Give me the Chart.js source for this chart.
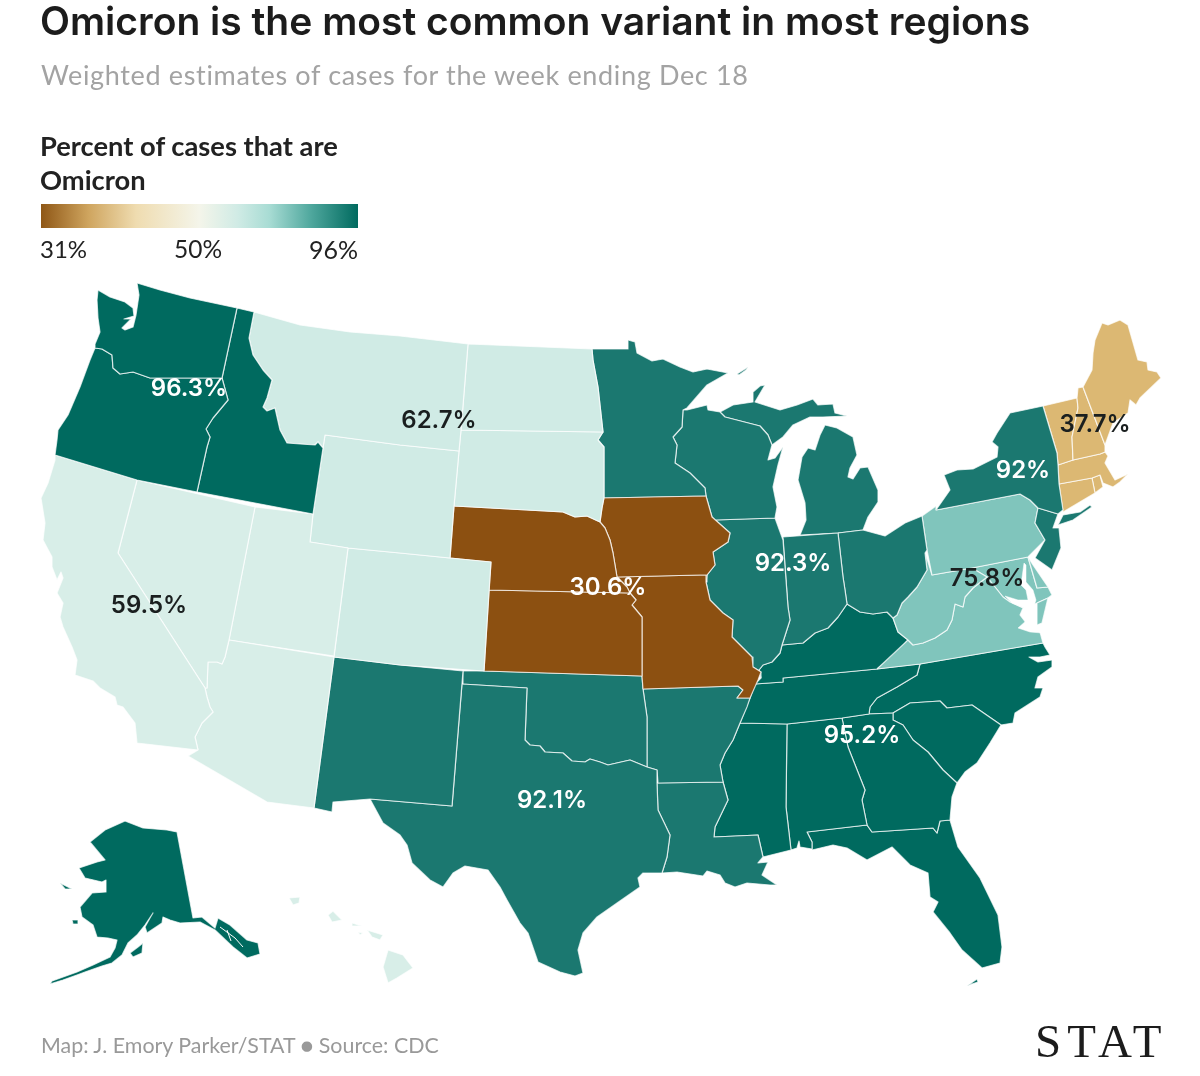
<!DOCTYPE html>
<html><head><meta charset="utf-8">
<script src="https://cdn.jsdelivr.net/npm/chart.js@4"></script>
<style>
html,body{margin:0;padding:0;background:#fff;width:1200px;height:1076px;overflow:hidden}
#c{position:absolute;left:0;top:0}
.t{position:absolute;white-space:nowrap;font-family:Lato,sans-serif;line-height:1}
</style></head><body>
<canvas id="c" width="1200" height="1076"></canvas>
<div class="t" style="left:40px;top:1px;font:600 39px/40px Inter,sans-serif;color:#1c1c1c" id="title">Omicron is the most common variant in most regions</div>
<div class="t" style="left:41px;top:60px;font:400 27px/30px Lato,sans-serif;color:#a3a3a3;letter-spacing:.65px">Weighted estimates of cases for the week ending Dec 18</div>
<div class="t" style="left:40px;top:129px;font:700 27.3px/34px Lato,sans-serif;color:#222">Percent of cases that are<br>Omicron</div>
<div class="t" style="left:40px;top:236px;font:400 24px/26px Lato,sans-serif;color:#222">31%</div>
<div class="t" style="left:174px;top:236px;font:400 24.5px/26px Lato,sans-serif;color:#222">50%</div>
<div class="t" style="right:842px;top:236px;font:400 25px/26px Lato,sans-serif;color:#222">96%</div>
<div class="t" style="left:41px;top:1033px;font:400 21.4px/24px Lato,sans-serif;color:#999">Map: J. Emory Parker/STAT ● Source: CDC</div>
<div class="t" style="left:1035px;top:1016px;font:400 47px/50px 'Liberation Serif',serif;color:#1c1c1c;letter-spacing:6px">STAT</div>
<script>
// shared borders, in map units
const waOr=[222,378,192,378,150,378,133,372,120,374,113,368,112,355,102,349,95,348];
const idOr=[222,378,228,400,213,418,206,429,210,437,207,447,197,492];
const idMt=[254,312,249,338,253,355,263,370,272,380,267,398,263,407,267,411,275,408,280,430,287,443,300,444,315,445,318,442,323,448];
const coRiver=[205,688,207,697,210,707,213,712,202,723,195,737,198,750];
const nvAz=[229,640,225,657,222,664,217,662,208,662,207,688,205,688];
const redRiver=[525,740,530,745,540,746,545,752,563,753,572,761,585,762,590,759,600,762,608,765,630,760,647,767,657,770];
const sabine=[657,783,658,810,670,835,667,857,662,873];
const neMo=[600,522,605,528,610,540,613,553,617,577,627,587,630,593];
const ksMo=[630,593,636,600,632,605,642,617,642,676];
const iaIl=[706,496,712,517,730,533,728,542,713,552,715,565,707,575];
const moIl=[707,575,706,582,710,600,723,613,733,620,732,637,752,657,753,667,761,672];
const moSouth=[761,672,758,680,750,698,737,698,743,690,738,686,643,689];
const miss=[750,698,747,707,740,723,733,740,725,753,720,765,723,782,728,800,715,827,714,837];
const mnWi=[683,410,682,427,673,437,677,445,675,463,690,473,705,488,706,496];
const ohioRv=[893,618,887,612,873,614,860,612,847,604,838,617,828,628,815,633,803,643,782,645];
const ilKy=[782,645,780,653,772,662,763,665,759,670,761,678];
const tnNc=[920,664,917,675,897,687,877,698,870,707,869,714];
const gaSc=[893,713,893,720,903,725,913,740,928,752,943,770,957,783];
const wvVa=[987,577,973,588,965,597,963,607,955,604,952,620,947,630,935,638,923,643,913,645,908,640];
const upWi=[720,412,725,417,760,426,768,435,772,445];
const mnNd=[603,432,598,387,593,360,592,349];
const sdMn=[603,432,598,440,604,447,604,498];
const nhVt=[1078,408,1072,437,1073,460];

function rev(a){const r=[];for(let i=a.length-2;i>=0;i-=2)r.push(a[i],a[i+1]);return r;}

// state outlines
const WA=[137,283,160,290,190,298,237,308,...waOr,95,344,100,332,98,318,97,300,98,290,110,297,125,302,133,308,134,316,124,319,131,319,122,328,125,330,133,327,136,315,139,295];
const OR=[...idOr,137,480,55,455,57,440,58,430,68,415,80,387,90,360,...rev(waOr)];
const ID=[237,308,...idMt,313,514,197,492,...rev(idOr)];
const CA=[55,455,137,480,118,553,...coRiver,137,743,135,723,123,707,117,705,115,697,100,688,93,681,75,675,77,660,72,647,63,627,60,617,63,603,57,593,63,578,61,572,57,580,52,567,52,557,43,540,45,523,41,498,48,483,55,460];
const NV=[137,480,255,507,...nvAz,118,553];
const UT=[255,507,313,514,310,542,348,548,334,656,229,640];
const AZ=[...rev(coRiver),...rev(nvAz),334,657,314,808,267,802,188,756];
const MT=[...idMt.slice(0,2),300,325,350,332,400,336,468,344,461,430,459,451,400,445,325,435,...rev(idMt).slice(0,-2)];
const WY=[325,435,400,445,459,451,454,506,450,558,400,553,348,548,310,542,313,514,323,448];
const CO=[348,548,400,553,450,558,491,562,484,671,400,665,334,657];
const NM=[334,657,400,665,463,671,452,806,370,799,333,802,332,812,314,808];
const TX=[462,684,527,688,...redRiver,...sabine,643,873,638,878,640,887,617,903,597,917,583,933,578,950,583,973,575,976,560,972,538,962,528,933,520,923,507,900,500,887,488,870,465,866,453,873,443,887,430,880,412,863,407,845,400,835,383,823,370,799,452,806];
const OK=[463,671,484,671,642,676,643,689,647,717,647,767,...rev(redRiver).slice(4),527,688,462,684];
const KS=[489,590,630,593,...ksMo.slice(2),484,671];
const NE=[454,506,563,512,575,517,587,516,...neMo,489,590,491,562,450,558];
const SD=[461,430,...sdMn,602,508,600,522,587,516,575,517,563,512,454,506,459,451];
const ND=[468,344,...rev(mnNd),461,430];
const MN=[592,349,628,349,628,340,635,342,637,353,652,361,663,359,680,367,693,372,707,369,728,373,707,385,687,408,...mnWi,...rev(sdMn),...mnNd.slice(2,-2)];
const IA=[...neMo.slice(0,8),617,577,700,575,707,575,...rev(iaIl),602,498,604,498,602,508];
const MO=[617,577,700,575,...moIl,...moSouth,...rev(ksMo),627,587];
const AR=[643,689,738,686,743,690,737,698,...miss.slice(0,14),658,783,657,770,647,767,647,717];
const LA=[657,783,723,782,728,800,715,827,714,837,758,835,763,857,758,863,768,862,762,875,777,885,770,885,747,883,735,887,725,883,720,875,707,871,703,876,690,874,677,872,...rev(sabine).slice(0,-2)];
const MS=[740,723,787,724,786,807,791,850,763,857,758,835,714,837,715,827,728,800,723,782,720,765,725,753,733,740];
const AL=[787,724,842,718,848,747,865,790,862,800,867,825,807,832,812,842,812,849,800,847,799,841,797,848,791,850,786,807];
const GA=[842,718,869,714,...gaSc,952,797,950,820,940,821,937,833,933,828,872,832,867,825,862,800,865,790,848,747];
const SC=[893,713,910,703,940,701,947,708,972,705,1001,725,990,743,977,763,965,772,...rev(gaSc).slice(0,-2)];
const NC=[1043,643,920,664,...tnNc.slice(2),893,713,910,703,940,701,947,708,972,705,1001,725,1013,723,1015,713,1040,697,1043,688,1035,688,1038,677,1052,667,1052,660,1038,662,1029,657,1040,657,1050,655,1045,647];
const TN=[740,723,750,698,755,684,783,682,783,678,877,669,920,664,...tnNc.slice(2),842,718,787,724];
const KY=[761,678,755,684,783,682,783,678,877,669,897,653,908,640,898,632,...ohioRv,...ilKy];
const IL=[715,520,775,518,783,540,788,607,790,620,782,645,...ilKy.slice(2),...rev(moIl),...rev(iaIl).slice(2,-2)];
const IN=[783,537,838,533,843,577,845,590,847,604,838,617,828,628,815,633,803,643,782,645,790,620,788,607];
const OH=[838,533,863,530,885,536,905,523,922,516,927,550,925,553,927,570,917,587,908,597,902,603,897,615,...ohioRv.slice(0,10),845,590,843,577];
const MIL=[800,535,838,533,863,530,868,517,878,502,878,490,868,467,860,468,853,479,848,477,850,468,857,455,853,437,837,428,825,425,820,435,815,450,808,448,802,457,798,480,805,503,806,520];
const MIU=[...upWi,783,437,793,425,810,417,823,417,847,416,835,413,833,404,818,405,813,399,797,405,780,410,755,402,765,385,760,386,753,392,753,402,733,405];
const MII=[737,374,748,367,746,370,739,375];
const WI=[683,410,687,410,707,405,708,410,...upWi,768,460,775,458,783,447,778,465,773,487,777,507,775,518,715,520,712,517,...rev(mnWi).slice(0,-2)];
const PA=[922,516,936,506,936,510,1020,494,1030,500,1038,508,1035,523,1045,540,1028,557,972,568,932,575,927,550];
const NY=[936,510,950,490,944,475,957,470,973,469,997,457,998,447,992,442,997,433,1010,413,1043,406,1057,453,1058,465,1059,484,1063,510,1058,514,1038,508,1030,500,1020,494];
const LI=[1058,525,1063,515,1080,512,1090,505,1092,507,1073,520];
const NJ=[1038,508,1058,514,1053,528,1059,528,1061,548,1052,570,1035,558,1045,540,1035,523];
const CT=[1059,484,1092,478,1095,493,1063,512];
const MA=[1058,465,1073,460,1100,454,1105,452,1108,456,1105,463,1115,480,1128,474,1120,482,1113,487,1103,483,1100,475,1092,478,1059,484];
const RI=[1092,478,1100,475,1103,487,1095,493];
const VT=[1043,406,1077,398,...nhVt,1058,465,1057,453];
const NH=[1078,388,1083,387,1105,445,1105,452,1100,454,1073,460,...rev(nhVt).slice(2),1077,398];
const ME=[1083,387,1092,370,1093,353,1095,340,1102,323,1108,325,1120,320,1128,325,1138,360,1147,362,1148,370,1157,372,1161,378,1140,398,1136,405,1130,400,1128,413,1113,423,1105,445];
const WV=[925,552,932,575,972,568,...wvVa,898,632,893,618,897,615,902,603,908,597,917,587,927,570];
const VA=[877,669,...rev(wvVa),1003,597,1010,602,1023,608,1020,615,1030,628,1040,632,1043,643,920,664];
const VAE=[1037,603,1048,598,1042,623,1037,625];
const DE=[1028,557,1033,565,1048,587,1037,588];
const MD=[972,568,1028,557,1037,588,1048,587,1052,595,1048,598,1037,603,1030,606,1023,608,1010,602,1003,597,987,577];
const FL=[807,832,867,825,872,832,933,828,937,833,940,821,950,820,958,847,980,878,998,915,1002,947,1000,963,982,968,962,950,950,933,933,912,938,902,930,897,928,873,910,865,892,847,867,860,847,848,833,845,812,850,812,842];
const FLK=[967,986,977,979,978,982,972,984];
const AK=[177,832,193,918,202,917,215,928,218,918,230,925,247,940,258,943,260,954,247,958,233,947,215,930,200,922,180,923,170,920,163,917,162,923,147,933,145,927,150,918,153,913,145,925,137,935,128,943,122,955,112,963,102,966,85,972,77,975,63,980,50,984,52,981,77,972,93,965,110,957,115,948,117,940,108,938,97,937,93,925,82,917,80,907,92,893,106,892,106,880,102,882,85,878,79,868,97,862,105,860,90,842,105,830,125,821,143,828,167,830];
const AK2=[130,953,138,947,143,943,142,953,133,957];
const AK3=[60,883,72,889,65,889];
const AK4=[72,920,78,920,78,924,73,924];
const HI1=[388,950,403,955,413,968,397,978,388,983,383,967];
const HI2=[367,930,383,935,380,940,372,937];
const HI3=[328,915,333,911,342,920,332,922];
const HI4=[289,898,300,897,299,903,293,905];
const HI5=[352,923,362,926,352,926];
const HI6=[358,932,363,933,360,935];
const bay=[1024,563,1021,585,1026,590,1028,600,1018,600,1005,596,1012,603,1024,608,1027,620,1018,628,1030,632,1042,633,1033,625,1032,612,1036,600,1033,590,1026,582,1026,565];
const akChannel1=[220,927,235,938,243,947];
const akChannel2=[227,930,231,941];
const legendBar=[41,204,358,204,358,228,41,228];

// percent of cases that are Omicron, by state group
const groupValues={nw:96.3,mtn:62.7,sw:59.5,mid:30.6,gl:92.3,ny:92,ne:37.7,ma:75.8,se:95.2,sc:92.1};
const stateNames=['WA','OR','ID','AK','AK2','AK3','AK4','CA','NV','AZ','UT','HI1','HI2','HI3','HI4','HI5','HI6','MT','WY','CO','ND','SD','NE','IA','KS','MO','NM','TX','OK','AR','LA','MN','WI','IL','IN','OH','MIL','MIU','MII','NY','LI','NJ','ME','NH','VT','MA','CT','RI','PA','WV','VA','VAE','DE','MD','KY','TN','MS','AL','GA','SC','NC','FL','FLK'];
const stateOutlines=[WA,OR,ID,AK,AK2,AK3,AK4,CA,NV,AZ,UT,HI1,HI2,HI3,HI4,HI5,HI6,MT,WY,CO,ND,SD,NE,IA,KS,MO,NM,TX,OK,AR,LA,MN,WI,IL,IN,OH,MIL,MIU,MII,NY,LI,NJ,ME,NH,VT,MA,CT,RI,PA,WV,VA,VAE,DE,MD,KY,TN,MS,AL,GA,SC,NC,FL,FLK];
const stateGroups=['nw','nw','nw','nw','nw','nw','nw','sw','sw','sw','sw','sw','sw','sw','sw','sw','sw','mtn','mtn','mtn','mtn','mtn','mid','mid','mid','mid','sc','sc','sc','sc','sc','gl','gl','gl','gl','gl','gl','gl','gl','ny','ny','ny','ne','ne','ne','ne','ne','ne','ma','ma','ma','ma','ma','ma','se','se','se','se','se','se','se','se','se'];

const labelText=['96.3%','62.7%','59.5%','30.6%','92.3%','92%','37.7%','75.8%','95.2%','92.1%'];
const labelX=[189,439,149,608,793,1023,1095,987,862,552];
const labelY=[388,420,605,587,563,470,424,578,735,800];

const scaleValues=[30.6,37.7,59.5,62.7,75.8,96.3,95.2];
const scaleColors=['#8c5011','#dcb873','#d8eee8','#d0ebe5','#80c5bc','#006a5f','#006a5f'];
const midTeal='#1b7870';
const legendStops=[0,.15,.3,.5,.62,.72,.85,1];
const legendColors=['#8f5716','#cfa55f','#efdcb0','#f4f5ea','#d0ebe5','#a8dcd4','#50a89e','#006a5f'];

function colorFor(v){const i=scaleValues.indexOf(v);return i>=0?scaleColors[i]:midTeal;}
function pts(a){const r=[];for(let i=0;i<a.length;i+=2)r.push({x:a[i],y:a[i+1]});r.push({x:a[0],y:a[1]});return r;}
function open(a){const r=pts(a);r.pop();return r;}

const datasets=stateOutlines.map((o,i)=>({
  label:stateNames[i],data:pts(o),showLine:true,fill:'shape',tension:0,pointRadius:0,
  backgroundColor:colorFor(groupValues[stateGroups[i]]),
  borderColor:'rgba(255,255,255,.72)',borderWidth:1.2,order:5
}));
datasets.push({label:'bay',data:pts(bay),showLine:true,fill:'shape',pointRadius:0,backgroundColor:'#fff',borderColor:'#fff',borderWidth:.5,order:1});
[akChannel1,akChannel2].forEach((a,i)=>datasets.push({label:'channel'+i,data:open(a),showLine:true,fill:false,pointRadius:0,borderColor:'#fff',borderWidth:1,order:1}));
const legendGradient=document.getElementById('c').getContext('2d').createLinearGradient(41,0,358,0);
legendStops.forEach((s,i)=>legendGradient.addColorStop(s,legendColors[i]));
datasets.push({label:'legend',data:pts(legendBar),showLine:true,fill:'shape',pointRadius:0,borderWidth:0,order:1,backgroundColor:legendGradient});

const labelPlugin={id:'stateLabels',afterDatasetsDraw(ch){const c=ch.ctx,xs=ch.scales.x,ys=ch.scales.y;c.save();
  c.font='600 24px Inter,sans-serif';c.textAlign='center';c.textBaseline='middle';
  labelText.forEach((t,i)=>{const v=parseFloat(t);c.fillStyle=(v>80||v<35)?'#fff':'#1a1f1f';
    c.fillText(t,xs.getPixelForValue(labelX[i]),ys.getPixelForValue(labelY[i])+1);});c.restore();}};

new Chart(document.getElementById('c'),{type:'scatter',data:{datasets},plugins:[labelPlugin],options:{
  responsive:false,animation:false,devicePixelRatio:1,layout:{padding:0},
  plugins:{legend:{display:false},tooltip:{enabled:false},title:{display:false}},
  elements:{line:{borderJoinStyle:'round'}},
  scales:{x:{type:'linear',min:0,max:1200,display:false},y:{type:'linear',min:0,max:1076,reverse:true,display:false}}
}});
</script>
</body></html>
